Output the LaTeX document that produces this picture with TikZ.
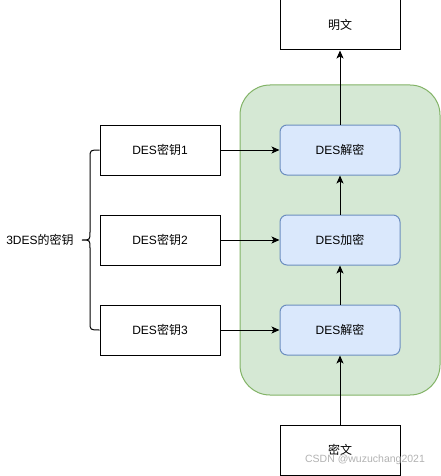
\documentclass[tikz,border=0pt]{standalone}
\usepackage{fontspec}
\setmainfont{Liberation Sans}
\newfontfamily\cjk{Noto Sans CJK SC}
\usetikzlibrary{arrows.meta}
\definecolor{groupfill}{HTML}{D5E8D4}
\definecolor{groupdraw}{HTML}{82B366}
\definecolor{stepfill}{HTML}{DAE8FC}
\definecolor{stepdraw}{HTML}{6C8EBF}
\tikzset{
    plainbox/.style={draw, line width=1pt, minimum width=120pt, minimum height=50pt, inner sep=0pt, font=\fontsize{12}{14}\selectfont},
    desbox/.style={plainbox, rounded corners=7pt, fill=stepfill, draw=stepdraw},
    flow/.style={-{Stealth[length=8pt,width=7pt,inset=2pt]}, line width=1pt},
}
\begin{document}
\begin{tikzpicture}[x=1pt,y=-1pt]
    \useasboundingbox (0,0) rectangle (441,476);
    \draw[fill=groupfill, draw=groupdraw, line width=1pt, rounded corners=30pt] (240,85) rectangle (440,395);
    \node[plainbox] (plain) at (340,25) {{\cjk 明文}};
    \node[plainbox] (cipher) at (340,450) {{\cjk 密文}};
    \node[plainbox] (key1) at (160,150) {DES{\cjk 密钥}1};
    \node[plainbox] (key2) at (160,240) {DES{\cjk 密钥}2};
    \node[plainbox] (key3) at (160,330) {DES{\cjk 密钥}3};
    \node[desbox] (dec1) at (340,150) {DES{\cjk 解密}};
    \node[desbox] (enc) at (340,240) {DES{\cjk 加密}};
    \node[desbox] (dec3) at (340,330) {DES{\cjk 解密}};
    \node[font=\fontsize{12}{14}\selectfont] (keys) at (40,240) {3DES{\cjk 的密钥}};
    \draw[flow] (cipher) -- (dec3);
    \draw[flow] (dec3) -- (enc);
    \draw[flow] (enc) -- (dec1);
    \draw[flow] (dec1) -- (plain);
    \draw[flow] (key1) -- (dec1);
    \draw[flow] (key2) -- (enc);
    \draw[flow] (key3) -- (dec3);
    % brace
    \draw[line width=1pt] (key1.west) .. controls (90,150) .. (90,158) -- (90,232)
        .. controls (90,240) .. (82,240) .. controls (90,240) .. (90,248) -- (90,322)
        .. controls (90,330) .. (key3.west);
    \node[text=black!30, font=\fontsize{10.5}{12}\selectfont] (mark) at (365,460) {CSDN @wuzuchang2021};
\end{tikzpicture}
\end{document}
